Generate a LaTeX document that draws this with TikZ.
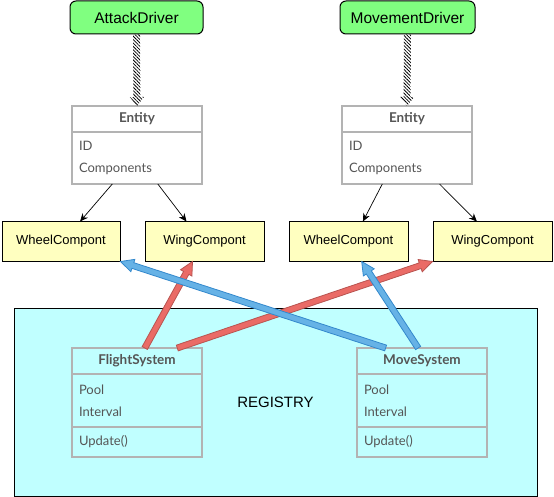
\documentclass[tikz,border=0pt]{standalone}
\usepackage{fontspec}
\setmainfont{Liberation Sans}
\newfontfamily\umlfont{Lato}
\usetikzlibrary{arrows.meta,calc,positioning,patterns.meta}

\definecolor{drvgreen}{RGB}{128,255,128}
\definecolor{compyellow}{RGB}{255,255,192}
\definecolor{regcyan}{RGB}{192,255,255}
\definecolor{umlgray}{RGB}{179,179,179}
\definecolor{umltext}{RGB}{85,85,85}
\definecolor{redfill}{RGB}{234,107,102}
\definecolor{redline}{RGB}{184,84,80}
\definecolor{bluefill}{RGB}{102,178,230}
\definecolor{blueline}{RGB}{51,136,204}

% #1 style, #2 from, #3 to, #4 half body, #5 half head, #6 head length
\newcommand{\fatarrow}[6]{%
  \coordinate (fa-a) at (#2);
  \coordinate (fa-b) at (#3);
  \coordinate (fa-c) at ($(fa-b)!#6!(fa-a)$);
  \path[#1] ($(fa-a)!#4!90:(fa-b)$) -- ($(fa-c)!#4!-90:(fa-a)$)
    -- ($(fa-c)!#5!-90:(fa-a)$) -- (fa-b) -- ($(fa-c)!#5!90:(fa-a)$)
    -- ($(fa-c)!#4!90:(fa-a)$) -- ($(fa-a)!#4!-90:(fa-b)$) -- cycle;}

\begin{document}
\begin{tikzpicture}[x=1pt,y=-1pt,
  drv/.style={draw,line width=1pt,fill=drvgreen,rounded corners=6pt,minimum height=33pt,
    font=\fontsize{15.5}{18}\selectfont,inner sep=0pt},
  comp/.style={draw,line width=1pt,fill=compyellow,minimum height=39pt,minimum width=119pt,
    font=\fontsize{13}{15}\selectfont,inner sep=0pt},
  hdr/.style={draw=umlgray,line width=1.5pt,minimum width=130pt,minimum height=26pt,outer sep=0pt,
    text=umltext,font=\umlfont\bfseries\fontsize{13.5}{16}\selectfont,inner sep=0pt},
  attr/.style={draw=umlgray,line width=1.5pt,minimum width=130pt,outer sep=0pt,text width=116pt,
    inner xsep=7pt,inner ysep=0pt,align=left,text=umltext,font=\umlfont\fontsize{13}{22}\selectfont},
  link/.style={-{Stealth[length=8pt,width=7pt]},line width=0.7pt},
  hatch/.style={pattern={Lines[angle=-45,distance=2.4pt,line width=0.8pt]}},
  redarr/.style={draw=redline,fill=redfill,line width=0.8pt,line join=miter},
  bluearr/.style={draw=blueline,fill=bluefill,line width=0.8pt,line join=miter}]
\useasboundingbox (0,0) rectangle (554,497);

% registry
\node[draw,line width=1pt,fill=regcyan,minimum width=523pt,minimum height=188pt,
  font=\fontsize{15}{18}\selectfont] (registry) at (275.5,402) {REGISTRY};

% drivers and entities
\node[drv,minimum width=133pt] (attack) at (136.5,17.5) {AttackDriver};
\node[drv,minimum width=135pt] (movement) at (407.5,17.5) {MovementDriver};

\node[hdr] (ent1) at (137,119) {Entity};
\node[attr,minimum height=52pt,below=0pt of ent1] (ent1a) {ID\\Components};
\node[hdr] (ent2) at (407,119) {Entity};
\node[attr,minimum height=52pt,below=0pt of ent2] (ent2a) {ID\\Components};

\fatarrow{hatch}{attack.south}{ent1.north}{3.5pt}{7pt}{9pt}
\fatarrow{hatch}{movement.south}{ent2.north}{3.5pt}{7pt}{9pt}

% components
\node[comp,minimum width=118pt] (wheel1) at (61,241.5) {WheelCompont};
\node[comp] (wing1) at (204.5,241.5) {WingCompont};
\node[comp] (wheel2) at (348.5,241.5) {WheelCompont};
\node[comp] (wing2) at (492.5,241.5) {WingCompont};

\draw[link] ($(ent1a.south west)!0.31!(ent1a.south east)$) -- ($(wheel1.north west)!0.66!(wheel1.north east)$);
\draw[link] ($(ent1a.south west)!0.66!(ent1a.south east)$) -- ($(wing1.north west)!0.35!(wing1.north east)$);
\draw[link] ($(ent2a.south west)!0.31!(ent2a.south east)$) -- ($(wheel2.north west)!0.62!(wheel2.north east)$);
\draw[link] ($(ent2a.south west)!0.75!(ent2a.south east)$) -- ($(wing2.north west)!0.37!(wing2.north east)$);

% systems
\node[hdr] (flight) at (137,361) {FlightSystem};
\node[attr,minimum height=53pt,below=0pt of flight] (flighta) {Pool\\Interval};
\node[attr,minimum height=30pt,below=0pt of flighta] (flightm) {Update()};
\node[hdr] (move) at (422,361) {MoveSystem};
\node[attr,minimum height=53pt,below=0pt of move] (movea) {Pool\\Interval};
\node[attr,minimum height=30pt,below=0pt of movea] (movem) {Update()};

\fatarrow{redarr}{$(flight.north west)!0.56!(flight.north east)$}{$(wing1.south west)!0.40!(wing1.south east)$}{3pt}{6.5pt}{13pt}
\fatarrow{redarr}{$(flight.north west)!0.81!(flight.north east)$}{wing2.south west}{3pt}{6.5pt}{13pt}
\fatarrow{bluearr}{$(move.north west)!0.22!(move.north east)$}{wheel1.south east}{3pt}{6.5pt}{13pt}
\fatarrow{bluearr}{$(move.north west)!0.47!(move.north east)$}{$(wheel2.south west)!0.61!(wheel2.south east)$}{3pt}{6.5pt}{13pt}
\end{tikzpicture}
\end{document}
